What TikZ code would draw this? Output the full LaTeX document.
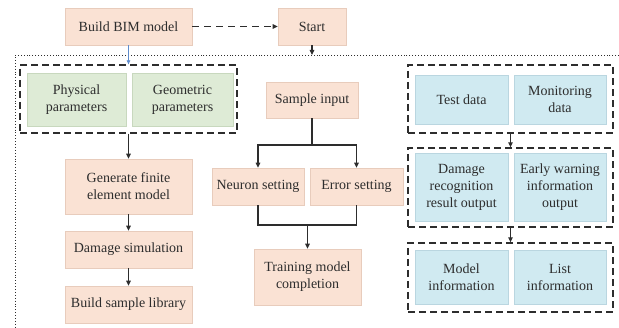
\documentclass[tikz,border=0pt]{standalone}
\usepackage{fontspec}
\setmainfont{Liberation Serif}
\usetikzlibrary{arrows.meta}
\definecolor{peach}{RGB}{250,226,212}
\definecolor{peachb}{RGB}{232,204,188}
\definecolor{greenf}{RGB}{222,235,214}
\definecolor{greenb}{RGB}{200,216,190}
\definecolor{bluef}{RGB}{208,234,241}
\definecolor{blueb}{RGB}{186,214,224}
\definecolor{ink}{RGB}{45,45,45}
\definecolor{arrblue}{RGB}{95,140,205}
\tikzset{
  box/.style={draw=peachb, line width=0.6pt, fill=peach, align=center, inner sep=1pt,
    font=\fontsize{14}{17}\selectfont, text=ink},
  gbox/.style={box, draw=greenb, fill=greenf},
  bbox/.style={box, draw=blueb, fill=bluef},
  grp/.style={draw=ink, dashed, dash pattern=on 7pt off 4pt, line width=1.3pt, inner sep=0pt},
  conn/.style={draw=ink, line width=1.1pt},
  arr/.style={conn, -{Triangle[length=5pt,width=4.5pt]}},
}
\begin{document}
\begin{tikzpicture}[x=1pt,y=-1pt]
\useasboundingbox (0,0) rectangle (619,328);
% outer dotted frame
\draw[ink, dotted, line width=0.9pt] (619,55) -- (15,55) -- (15,328);
% top row
\node[box, minimum width=127pt, minimum height=37pt] (bim) at (128.5,26.5) {Build BIM model};
\node[box, minimum width=68pt, minimum height=37pt] (start) at (312,26.5) {Start};
\coordinate (dtop) at (312,55);
\draw[arr, dashed, dash pattern=on 7pt off 5pt] (bim) -- (start);
\draw[arr] (start.south) -- (dtop);
% left column
\node[grp, minimum width=217pt, minimum height=68pt] (grpL) at (128.5,99) {};
\node[gbox, minimum width=99pt, minimum height=53pt] (phys) at (76.5,99.5) {Physical\\parameters};
\node[gbox, minimum width=101pt, minimum height=53pt] (geo) at (182.5,99.5) {Geometric\\parameters};
\draw[arrblue, line width=0.7pt, -{Triangle[length=4pt,width=3.5pt]}] (bim.south) -- (grpL.north);
\node[box, minimum width=127pt, minimum height=55pt] (gen) at (128.5,186.5) {Generate finite\\element model};
\node[box, minimum width=127pt, minimum height=37pt] (dam) at (128.5,249.5) {Damage simulation};
\node[box, minimum width=127pt, minimum height=37pt] (lib) at (128.5,304.5) {Build sample library};
\draw[arr] (grpL.south) -- (gen.north);
\draw[arr] (gen.south) -- (dam.north);
\draw[arr] (dam.south) -- (lib.north);
% middle column
\node[box, minimum width=92pt, minimum height=36pt] (sample) at (312,100) {Sample input};
\node[box, minimum width=92pt, minimum height=37pt] (neuron) at (258,186.5) {Neuron setting};
\node[box, minimum width=93pt, minimum height=37pt] (error) at (356.5,186.5) {Error setting};
\node[box, minimum width=107pt, minimum height=56pt] (train) at (307.5,277) {Training model\\completion};
\coordinate (split) at (312,145);
\coordinate (merge) at (307.5,225);
\draw[conn] (sample.south) -- (split);
\draw[arr] (split) -| (neuron.north);
\draw[arr] (split) -| (error.north);
\draw[conn] (neuron.south) |- (merge) -| (error.south);
\draw[arr] (merge) -- (train.north);
% right column
\node[grp, minimum width=205pt, minimum height=68pt] (grpR1) at (510.5,99) {};
\node[bbox, minimum width=93pt, minimum height=49pt] (test) at (461.5,99.5) {Test data};
\node[bbox, minimum width=92pt, minimum height=49pt] (mon) at (560,99.5) {Monitoring\\data};
\node[grp, minimum width=205pt, minimum height=79pt] (grpR2) at (510.5,187.5) {};
\node[bbox, minimum width=93pt, minimum height=68pt] (drr) at (461.5,187) {Damage\\recognition\\result output};
\node[bbox, minimum width=92pt, minimum height=68pt] (ewi) at (560,187) {Early warning\\information\\output};
\node[grp, minimum width=205pt, minimum height=69pt] (grpR3) at (510.5,277.5) {};
\node[bbox, minimum width=93pt, minimum height=54pt] (modi) at (461.5,277) {Model\\information};
\node[bbox, minimum width=92pt, minimum height=54pt] (listi) at (560,277) {List\\information};
\draw[arr] (grpR1.south) -- (grpR2.north);
\draw[arr] (grpR2.south) -- (grpR3.north);
\end{tikzpicture}
\end{document}
